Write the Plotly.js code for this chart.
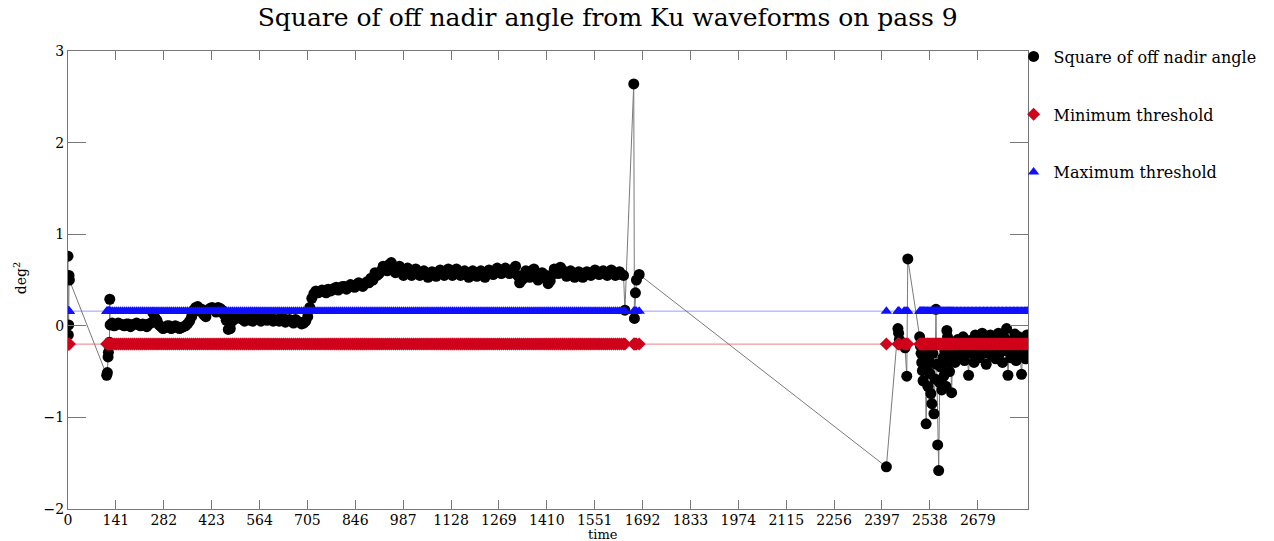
<!DOCTYPE html>
<html>
<head>
<meta charset="utf-8">
<script src="https://cdn.plot.ly/plotly-3.0.1.min.js"></script>
<style>html,body{margin:0;padding:0;background:#fff;}#chart{width:1274px;height:541px;}</style>
</head>
<body>
<div id="chart"></div>
<script>
// ---- data ----
// start of pass and jump into the band
const timeStart = [0, 1, 2, 3, 4, 114, 116, 118, 119, 120, 122, 123, 124];
const valueStart = [0.76, -0.10, 0.01, 0.55, 0.50, -0.54, -0.51, -0.34, -0.29, -0.21, -0.18, 0.29, 0.01];

// dense band, centre line of the band
const timeBandA = [
  130, 142, 154, 166, 178, 190, 202, 214, 226, 238,
  250, 262, 274, 286, 298, 310, 322, 334, 346, 358, 370, 382, 394, 406, 418, 430, 442, 454, 466, 478,
  490, 502, 514, 526, 538, 550, 562, 574, 586, 598, 610, 622, 634, 646, 658, 670, 682, 694, 706, 718,
  730, 742, 754, 766, 778, 790, 802, 814, 826, 838, 850, 862, 874, 886, 898, 910, 922, 934, 946, 958,
  970, 982, 994, 1006, 1018, 1030, 1042, 1054, 1066, 1078, 1090, 1102, 1114, 1126, 1138, 1150, 1162, 1174,
  1186, 1198, 1210, 1222, 1234, 1246, 1258, 1270, 1282, 1294, 1306, 1318, 1330, 1342, 1354, 1366, 1378, 1390,
  1402, 1414, 1426, 1438, 1450, 1462, 1474, 1486, 1498, 1510, 1522, 1534, 1546, 1558, 1570, 1582, 1594, 1606,
  1618, 1630
];
const valueBandA = [
  0.03, 0.01, 0.02, 0.00, 0.02, 0.01, 0.03, 0.00, 0.01, 0.02,
  0.14, 0.06, -0.01, -0.02, 0.00, -0.02, -0.01, -0.02, 0.00, 0.05, 0.17, 0.21, 0.18, 0.10, 0.19, 0.18, 0.20, 0.17, 0.06, -0.03,
  0.12, 0.09, 0.07, 0.08, 0.06, 0.08, 0.07, 0.09, 0.06, 0.08, 0.07, 0.05, 0.08, 0.06, 0.05, 0.07, 0.04, 0.03, 0.10, 0.30,
  0.38, 0.37, 0.38, 0.40, 0.39, 0.42, 0.41, 0.43, 0.42, 0.44, 0.45, 0.45, 0.46, 0.47, 0.50, 0.55, 0.60, 0.63, 0.67, 0.62,
  0.62, 0.59, 0.60, 0.58, 0.59, 0.58, 0.57, 0.56, 0.55, 0.56, 0.57, 0.59, 0.58, 0.59, 0.58, 0.59, 0.57, 0.57,
  0.56, 0.58, 0.57, 0.56, 0.58, 0.59, 0.60, 0.61, 0.60, 0.61, 0.60, 0.65, 0.47, 0.52, 0.56, 0.60, 0.55, 0.52,
  0.56, 0.46, 0.56, 0.60, 0.64, 0.58, 0.57, 0.55, 0.56, 0.55, 0.55, 0.57, 0.58, 0.59, 0.58, 0.57, 0.59, 0.58,
  0.57, 0.56
];
// dense band, points along the band's upper and lower edges
const timeBandB = [
  136, 148, 160, 172, 184, 196, 208, 220, 232, 244,
  256, 268, 280, 292, 304, 316, 328, 340, 352, 364, 376, 388, 400, 412, 424, 436, 448, 460, 472, 484,
  496, 508, 520, 532, 544, 556, 568, 580, 592, 604, 616, 628, 640, 652, 664, 676, 688, 700, 712, 724,
  736, 748, 760, 772, 784, 796, 808, 820, 832, 844, 856, 868, 880, 892, 904, 916, 928, 940, 952, 964,
  976, 988, 1000, 1012, 1024, 1036, 1048, 1060, 1072, 1084, 1096, 1108, 1120, 1132, 1144, 1156, 1168, 1180,
  1192, 1204, 1216, 1228, 1240, 1252, 1264, 1276, 1288, 1300, 1312, 1324, 1336, 1348, 1360, 1372, 1384, 1396,
  1408, 1420, 1432, 1444, 1456, 1468, 1480, 1492, 1504, 1516, 1528, 1540, 1552, 1564, 1576, 1588, 1600, 1612,
  1624, 1636
];
const valueBandB = [
  0.00, 0.03, 0.01, 0.02, -0.01, 0.02, 0.01, 0.02, -0.01, 0.03,
  0.09, 0.01, -0.03, 0.00, -0.03, 0.00, -0.03, -0.01, 0.02, 0.10, 0.20, 0.16, 0.12, 0.17, 0.20, 0.15, 0.19, 0.12, -0.04, 0.05,
  0.08, 0.10, 0.05, 0.09, 0.05, 0.09, 0.05, 0.08, 0.09, 0.05, 0.06, 0.09, 0.04, 0.07, 0.03, 0.05, 0.02, 0.05, 0.20, 0.35,
  0.36, 0.39, 0.36, 0.38, 0.41, 0.39, 0.43, 0.40, 0.45, 0.42, 0.47, 0.43, 0.48, 0.52, 0.58, 0.57, 0.65, 0.60, 0.69, 0.58,
  0.65, 0.55, 0.63, 0.55, 0.62, 0.55, 0.60, 0.53, 0.59, 0.54, 0.61, 0.55, 0.62, 0.55, 0.62, 0.55, 0.60, 0.53,
  0.60, 0.54, 0.60, 0.53, 0.61, 0.56, 0.63, 0.57, 0.63, 0.57, 0.62, 0.55, 0.50, 0.60, 0.53, 0.62, 0.50, 0.58,
  0.52, 0.49, 0.62, 0.57, 0.61, 0.54, 0.60, 0.53, 0.59, 0.53, 0.59, 0.55, 0.61, 0.56, 0.60, 0.55, 0.61, 0.55,
  0.59, 0.55
];
// spike near 1666
const timeSpike = [1640, 1666, 1668, 1671, 1674, 1682];
const valueSpike = [0.17, 2.64, 0.08, 0.36, 0.50, 0.56];
// end of pass
const timeEnd = [
  2410, 2444, 2446, 2448, 2462, 2465, 2470, 2473,
  2508, 2510, 2512, 2514, 2516, 2518, 2520, 2522, 2524, 2527, 2530, 2532, 2535, 2538, 2541, 2544, 2547, 2550,
  2553, 2556, 2558, 2561, 2564, 2567, 2570, 2573, 2576, 2579, 2582, 2585, 2588, 2590, 2593, 2596, 2599, 2602,
  2605, 2608, 2612, 2616, 2620, 2624, 2628, 2632, 2636, 2640, 2644, 2648, 2652, 2656, 2660, 2664, 2668, 2672,
  2676, 2680, 2684, 2688, 2692, 2696, 2700, 2704, 2708, 2712, 2716, 2720, 2724, 2728, 2732, 2736, 2740, 2744,
  2748, 2752, 2756, 2760, 2764, 2768, 2772, 2776, 2780, 2784, 2788, 2792, 2796, 2800, 2804, 2808, 2812, 2816,
  2820, 2824, 2826
];
const valueEnd = [
  -1.54, -0.03, -0.08, -0.15, -0.20, -0.24, -0.55, 0.73,
  -0.12, -0.22, -0.30, -0.40, -0.49, -0.60, -0.34, -0.42, -0.27, -1.07, -0.45, -0.66, -0.38, -0.52, -0.74, -0.85, -0.30, -0.96,
  -0.58, 0.18, -0.42, -1.30, -1.58, -0.62, -0.45, -0.70, -0.35, -0.55, -0.28, -0.66, -0.05, -0.12, -0.40, -0.50, -0.25, -0.73,
  -0.33, -0.18, -0.40, -0.26, -0.15, -0.34, -0.22, -0.30, -0.12, -0.38, -0.20, -0.27, -0.54, -0.16, -0.30, -0.22, -0.40, -0.10,
  -0.28, -0.18, -0.35, -0.24, -0.08, -0.30, -0.15, -0.42, -0.20, -0.26, -0.10, -0.33, -0.22, -0.14, -0.36, -0.25, -0.08, -0.30,
  -0.18, -0.40, -0.12, -0.27, -0.03, -0.54, -0.22, -0.35, -0.16, -0.28, -0.09, -0.38, -0.20, -0.12, -0.32, -0.53, -0.24, -0.14,
  -0.36, -0.10, -0.30
];
const minThreshold = -0.2;
const maxThreshold = 0.16;
const xTickVals = [0, 141, 282, 423, 564, 705, 846, 987, 1128, 1269, 1410, 1551, 1692, 1833, 1974, 2115, 2256, 2397, 2538, 2679];
const yTickVals = [-2, -1, 0, 1, 2, 3];
const seriesNames = ['Square of off nadir angle', 'Minimum threshold', 'Maximum threshold'];

// merge the pieces into one time-ordered series
const allT = [].concat(timeStart, timeBandA, timeBandB, timeSpike, timeEnd);
const allV = [].concat(valueStart, valueBandA, valueBandB, valueSpike, valueEnd);
const order = allT.map((t, i) => i).sort((a, b) => allT[a] - allT[b]);
const time = order.map(i => allT[i]);
const offNadirSq = order.map(i => allV[i]);
const minSeries = time.map(() => minThreshold);
const maxSeries = time.map(() => maxThreshold);

const serif = 'DejaVu Serif, Liberation Serif, serif';

const traces = [
  {x: time, y: offNadirSq, type: 'scatter', mode: 'lines', line: {color: '#7a7a7a', width: 1}, showlegend: false, hoverinfo: 'skip'},
  {x: time, y: offNadirSq, type: 'scatter', mode: 'markers', name: seriesNames[0], legendgroup: 'a',
   marker: {symbol: 'circle', size: 11, color: '#000000'}},
  {x: time, y: minSeries, type: 'scatter', mode: 'lines', line: {color: 'rgba(230,70,80,0.7)', width: 1}, showlegend: false, hoverinfo: 'skip'},
  {x: time, y: minSeries, type: 'scatter', mode: 'markers', name: seriesNames[1], legendgroup: 'b',
   marker: {symbol: 'diamond', size: 10, color: '#d0021b'}},
  {x: time, y: maxSeries, type: 'scatter', mode: 'lines', line: {color: 'rgba(90,90,255,0.6)', width: 1}, showlegend: false, hoverinfo: 'skip'},
  {x: time, y: maxSeries, type: 'scatter', mode: 'markers', name: seriesNames[2], legendgroup: 'c',
   marker: {symbol: 'triangle-up', size: 10, color: '#1010ff'}}
];

const layout = {
  width: 1274, height: 541,
  margin: {l: 68, r: 246, t: 51, b: 32},
  paper_bgcolor: '#fff', plot_bgcolor: '#fff',
  font: {family: serif, color: '#000'},
  title: {text: 'Square of off nadir angle from Ku waveforms on pass 9', font: {family: serif, size: 25, color: '#000'},
          xref: 'container', x: 0.477, xanchor: 'center', yref: 'container', y: 0.968, yanchor: 'middle'},
  xaxis: {range: [0, 2827], tickmode: 'array', tickvals: xTickVals, ticktext: xTickVals.map(String),
          ticks: 'inside', ticklen: 9, tickcolor: '#777', showline: true, linecolor: '#777', linewidth: 1, mirror: 'ticks',
          ticklabelstandoff: -2,
          showgrid: false, zeroline: false, tickfont: {family: serif, size: 14, color: '#000'}},
  yaxis: {range: [-2, 3], tickmode: 'array', tickvals: yTickVals,
          ticks: 'inside', ticklen: 18, tickcolor: '#777', showline: true, linecolor: '#777', linewidth: 1, mirror: 'ticks',
          showgrid: false, zeroline: false, tickfont: {family: serif, size: 14, color: '#000'}},
  legend: {x: 0.985, xanchor: 'left', y: 1.025, yanchor: 'top', bgcolor: 'rgba(0,0,0,0)', tracegroupgap: 34,
           font: {family: serif, size: 16, color: '#000'}},
  annotations: [
    {text: 'time', xref: 'paper', yref: 'paper', x: 0.557, y: -0.055, xanchor: 'center', yanchor: 'middle', showarrow: false,
     font: {family: serif, size: 13, color: '#000'}},
    {text: 'deg<sup>2</sup>', xref: 'paper', yref: 'paper', x: -0.05, y: 0.504, xanchor: 'center', yanchor: 'middle', showarrow: false,
     textangle: -90, font: {family: serif, size: 14, color: '#000'}}
  ],
  showlegend: true
};

Plotly.newPlot('chart', traces, layout, {displayModeBar: false, staticPlot: true});
</script>
</body>
</html>
